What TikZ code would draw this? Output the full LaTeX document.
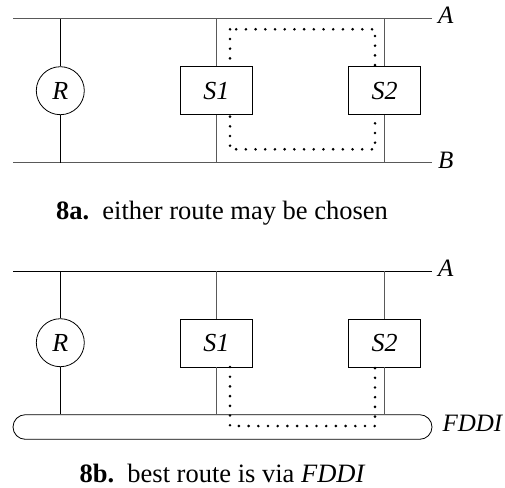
\documentclass[tikz,border=0pt]{standalone}
\usepackage{fontspec}
\setmainfont{Liberation Serif}
\begin{document}
\begin{tikzpicture}[x=1pt,y=-1pt,
  bus/.style={draw=black!65, line width=1.3pt},
  drop/.style={draw=black, line width=0.8pt},
  route/.style={draw=black, line width=2.9pt, dash pattern=on 0pt off 9.7pt, line cap=round},
  station/.style={draw, fill=white, line width=0.8pt, minimum width=72pt, minimum height=48pt, inner sep=0pt, font=\fontsize{26}{30}\selectfont\itshape},
  router/.style={circle, draw, fill=white, line width=0.8pt, minimum size=48pt, inner sep=0pt, font=\fontsize{26}{30}\selectfont\itshape},
  netlabel/.style={anchor=base west, inner sep=0pt, font=\fontsize{25}{29}\selectfont\itshape},
  caption/.style={anchor=base, inner sep=0pt, font=\fontsize{26.5}{30}\selectfont}]
\useasboundingbox (0,0) rectangle (505,487);

% ---------- 8a: two LANs A and B joined by S1 and S2 ----------
\coordinate (aw) at (13,18.7);
\coordinate (ae) at (432,18.7);
\coordinate (bw) at (13,162.7);
\coordinate (be) at (432,162.7);

\draw[route] (230,29.3) rectangle (375,149.3);

\node[router]  (r1)  at (60.3,90.7) {R};
\node[station] (s11) at (216.3,90.8) {S1};
\node[station] (s12) at (384.5,90.8) {S2};

\draw[bus] (aw) -- (ae);
\draw[bus] (bw) -- (be);
\node[netlabel] (la) at ([shift={(6,5.3)}]ae) {A};
\node[netlabel] (lb) at ([shift={(6,5.3)}]be) {B};

\draw[drop] (r1.north) -- (r1 |- aw);
\draw[drop] (r1.south) -- (r1 |- bw);
\draw[bus]  (s11.north) -- (s11 |- aw);
\draw[bus]  (s11.south) -- (s11 |- bw);
\draw[bus]  (s12.north) -- (s12 |- aw);
\draw[bus]  (s12.south) -- (s12 |- bw);

\node[caption] (capa) at (222,219.3) {\textbf{8a.}\enspace either route may be chosen};

% ---------- 8b: LAN A and the FDDI ring ----------
\coordinate (a2w) at (13,271.3);
\coordinate (a2e) at (432,271.3);

\node[draw, line width=0.8pt, rounded corners=12.3pt, minimum width=419pt, minimum height=24.6pt, inner sep=0pt] (fddi) at (222.5,427) {};
\node[netlabel] (lf) at ([shift={(10,4.7)}]fddi.east) {FDDI};

\node[router]  (r2)  at (60.3,342.7) {R};
\node[station] (s21) at (216.3,343) {S1};
\node[station] (s22) at (384.5,343) {S2};

\draw[drop] (a2w) -- (a2e);
\node[netlabel] (la2) at ([shift={(6,5.3)}]a2e) {A};

\draw[drop] (r2.north) -- (r2 |- a2w);
\draw[drop] (r2.south) -- (r2 |- fddi.north);
\draw[bus]  (s21.north) -- (s21 |- a2w);
\draw[bus]  (s21.south) -- (s21 |- fddi.north);
\draw[bus]  (s22.north) -- (s22 |- a2w);
\draw[bus]  (s22.south) -- (s22 |- fddi.north);

\coordinate (p1) at (230,426);
\coordinate (p2) at (375,426);
\draw[route] (230,367) -- (p1) -- (p2) -- (375,367);

\node[caption] (capb) at (222.5,482.3) {\textbf{8b.}\enspace best route is via \textit{FDDI}};
\end{tikzpicture}
\end{document}
